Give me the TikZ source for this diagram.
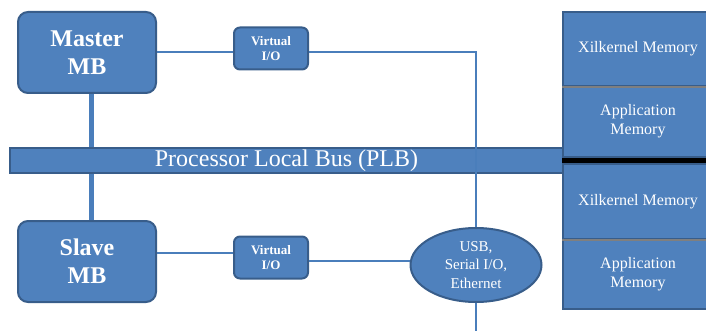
\documentclass[tikz,border=0pt]{standalone}
\usepackage{fontspec}
\setmainfont{Liberation Serif}
\usetikzlibrary{shapes.geometric}
\definecolor{mbfill}{HTML}{4F81BD}
\definecolor{mbdraw}{HTML}{385D8A}
\definecolor{mbline}{HTML}{4A7EBB}
\definecolor{memsep}{HTML}{7F7F7F}

\begin{document}
\begin{tikzpicture}[x=1pt, y=-1pt,
    mb/.style={rectangle, rounded corners=10, draw=mbdraw, fill=mbfill, line width=2, text=white, font=\bfseries\fontsize{24}{28}\selectfont, align=center, minimum width=138, minimum height=81, inner sep=0},
    vio/.style={rectangle, rounded corners=6, draw=mbdraw, fill=mbfill, line width=2, text=white, font=\bfseries\fontsize{13}{15}\selectfont, align=center, minimum width=74, minimum height=42, inner sep=0},
    mem/.style={rectangle, draw=mbdraw, fill=mbfill, line width=1.5, text=white, font=\fontsize{16}{19}\selectfont, align=center, minimum width=150, inner sep=0},
    link/.style={draw=mbline, line width=2},
    stem/.style={draw=mbline, line width=5}]
    \useasboundingbox (0,0) rectangle (706,331);

    % Processors
    \node(101) at (87,52.5) [mb] {Master\\MB};
    \node(102) at (87,261.5) [mb] {Slave\\MB};

    % Virtual I/O
    \node(111) at (271,48.5) [vio] {Virtual\\I/O};
    \node(112) at (271,257.5) [vio] {Virtual\\I/O};

    % Bus
    \node(120) at (286.5,160.5) [rectangle, draw=mbdraw, fill=mbfill, line width=1.5, minimum width=553, minimum height=25, inner sep=0, text=white, font=\fontsize{24}{26}\selectfont] {Processor Local Bus (PLB)};

    % Peripherals
    \node(130) at (476,265) [ellipse, draw=mbdraw, fill=mbfill, line width=2, minimum width=131, minimum height=74, inner sep=0, text=white, align=center, font=\fontsize{15}{18.5}\selectfont] {USB,\\Serial I/O,\\Ethernet};

    % Memory
    \node(201) at (638,49) [mem, minimum height=74] {Xilkernel Memory};
    \node(202) at (638,121.5) [mem, minimum height=71] {Application\\Memory};
    \node(203) at (638,201.5) [mem, minimum height=75] {Xilkernel Memory};
    \node(204) at (638,274) [mem, minimum height=70] {Application\\Memory};
    \draw[memsep, line width=2] (201.south west) -- (201.south east);
    \draw[memsep, line width=2] (203.south west) -- (203.south east);
    \fill[black] (202.south west) rectangle (203.north east);

    % Links
    \draw[link] (101.east) -- (101.east -| 111.west);
    \draw[link] (111.east |- 101.east) -| (130.north);
    \draw[stem] ([xshift=4]101.south) -- ([xshift=4]101.south |- 120.north);
    \draw[stem] ([xshift=4]102.north) -- ([xshift=4]102.north |- 120.south);
    \draw[link] ([yshift=8.5]102.east) -- ([yshift=8.5]102.east -| 112.west);
    \draw[link] ([yshift=-3.5]112.east) -- ([yshift=-3.5]112.east -| 130.west);
    \coordinate(131) at (476,333);
    \draw[link] (130.south) -- (131);

\end{tikzpicture}
\end{document}
